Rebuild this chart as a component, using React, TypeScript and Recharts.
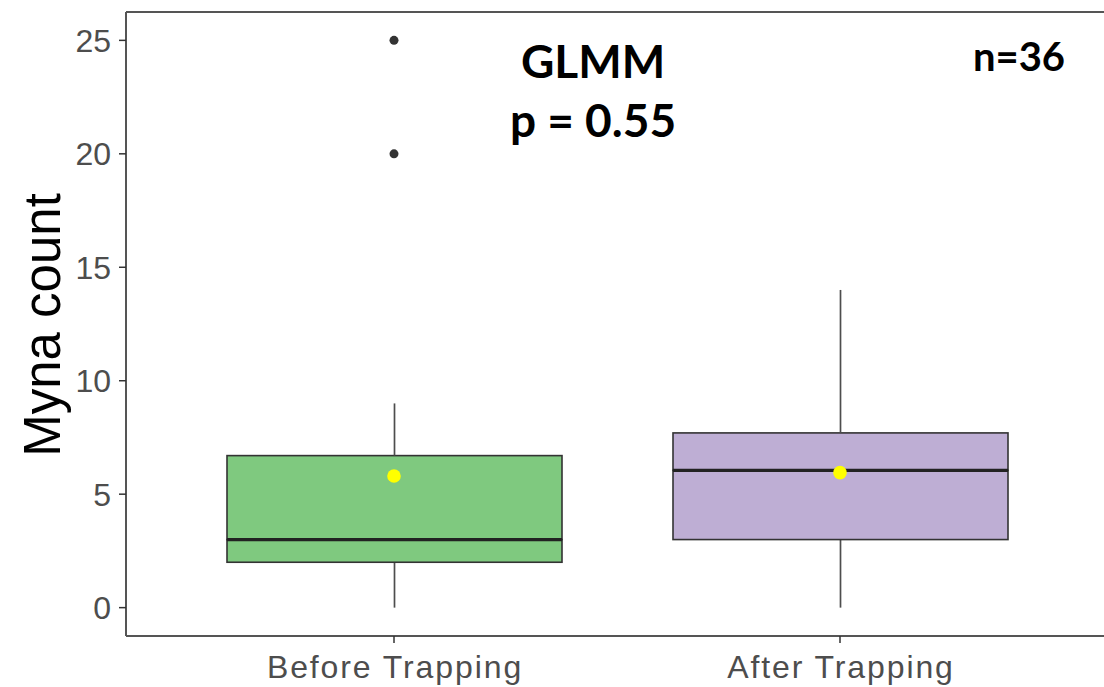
import React from 'react';
import { ComposedChart, Bar, Scatter, XAxis, YAxis, ReferenceLine } from 'recharts';

const categories = ['Before Trapping', 'After Trapping'];
const whiskerMin = [0, 0];
const q1 = [2, 3];
const median = [3, 6.05];
const q3 = [6.7, 7.7];
const whiskerMax = [9, 14];
const means = [5.8, 5.95];
const boxColors = ['#7FC97F', '#BEAED4'];
const outliers = [[20, 25], []];
const yTicks = [0, 5, 10, 15, 20, 25];

const data = categories.map((name, i) => ({
  name,
  base: whiskerMin[i],
  lowWhisker: q1[i] - whiskerMin[i],
  lowBox: median[i] - q1[i],
  highBox: q3[i] - median[i],
  highWhisker: whiskerMax[i] - q3[i],
  mean: means[i],
  out0: outliers[i][0] ?? null,
  out1: outliers[i][1] ?? null,
  fill: boxColors[i],
}));

const tickFont = '"Liberation Sans", Arial, sans-serif';

const Whisker = (props: any) => {
  const { x, y, width, height } = props;
  const cx = x + width / 2;
  return <line x1={cx} x2={cx} y1={y} y2={y + height} stroke="#4d4d4d" strokeWidth={1.7} />;
};

const LowBox = (props: any) => {
  const { x, y, width, height, payload } = props;
  return <rect x={x} y={y} width={width} height={height} fill={payload.fill} stroke="#333" strokeWidth={1.6} />;
};

const HighBox = (props: any) => {
  const { x, y, width, height, payload } = props;
  return (
    <g>
      <rect x={x} y={y} width={width} height={height} fill={payload.fill} stroke="#333" strokeWidth={1.6} />
      <line x1={x} x2={x + width} y1={y + height} y2={y + height} stroke="#222" strokeWidth={3.2} />
    </g>
  );
};

const outlierDot = (key: string) => (p: any) =>
  p.payload == null || p.payload[key] == null || !isFinite(p.cy) ? <g /> : <circle cx={p.cx} cy={p.cy} r={4.5} fill="#333" />;

const XTick = (props: any) => {
  const { x, y, payload } = props;
  return (
    <text x={x + 1} y={y} dy="0.71em" textAnchor="middle" fontSize={32} fill="#4d4d4d"
      fontFamily={tickFont} letterSpacing={1.9}>
      {payload.value}
    </text>
  );
};

export default function App() {
  return (
    <div style={{ position: 'absolute', left: 0, top: 0, width: 1104, height: 687, overflow: 'hidden', background: '#fff' }}>
      <ComposedChart width={1108} height={687} data={data} margin={{ top: 12, right: 0, bottom: 0, left: 0 }}>
        <XAxis dataKey="name" type="category" height={51} padding={{ left: 45, right: 45 }} tick={<XTick />}
          tickSize={7} tickMargin={12} stroke="#555" strokeWidth={2} tickLine={{ stroke: '#333', strokeWidth: 1.5 }} />
        <YAxis width={126} domain={[-1.25, 26.25]} ticks={yTicks} allowDataOverflow type="number"
          tickSize={7} tickMargin={8} stroke="#555" strokeWidth={2} tickLine={{ stroke: '#333', strokeWidth: 1.5 }}
          tick={{ fontSize: 32, fill: '#4d4d4d', fontFamily: tickFont }} />
        <ReferenceLine y={26.25} stroke="#555" strokeWidth={2} ifOverflow="visible" />
        <Bar dataKey="base" stackId="b" fill="transparent" barSize={335} isAnimationActive={false} />
        <Bar dataKey="lowWhisker" stackId="b" shape={<Whisker />} barSize={335} isAnimationActive={false} />
        <Bar dataKey="lowBox" stackId="b" shape={<LowBox />} barSize={335} isAnimationActive={false} />
        <Bar dataKey="highBox" stackId="b" shape={<HighBox />} barSize={335} isAnimationActive={false} />
        <Bar dataKey="highWhisker" stackId="b" shape={<Whisker />} barSize={335} isAnimationActive={false} />
        <Scatter dataKey="mean" fill="#FFFF00" isAnimationActive={false}
          shape={(p: any) => <circle cx={p.cx} cy={p.cy} r={6.8} fill="#FFFF00" />} />
        <Scatter dataKey="out0" fill="#333" isAnimationActive={false} shape={outlierDot('out0')} />
        <Scatter dataKey="out1" fill="#333" isAnimationActive={false} shape={outlierDot('out1')} />
      </ComposedChart>
      <div style={{ position: 'absolute', left: 42, top: 325, transform: 'translate(-50%, -50%) rotate(-90deg)',
        fontFamily: tickFont, fontSize: 51, lineHeight: 1, whiteSpace: 'nowrap', color: '#000' }}>
        Myna count
      </div>
      <div style={{ position: 'absolute', left: 593, top: 31, transform: 'translateX(-50%)', textAlign: 'center',
        fontFamily: 'Lato, "Open Sans", sans-serif', fontWeight: 700, fontSize: 46, lineHeight: '59px', color: '#000', whiteSpace: 'nowrap' }}>
        <div>GLMM</div>
        <div>p = 0.55</div>
      </div>
      <div style={{ position: 'absolute', left: 1019, top: 36, transform: 'translateX(-50%)',
        fontFamily: 'Lato, "Open Sans", sans-serif', fontWeight: 700, fontSize: 40, lineHeight: 1, color: '#000', whiteSpace: 'nowrap' }}>
        n=36
      </div>
    </div>
  );
}
